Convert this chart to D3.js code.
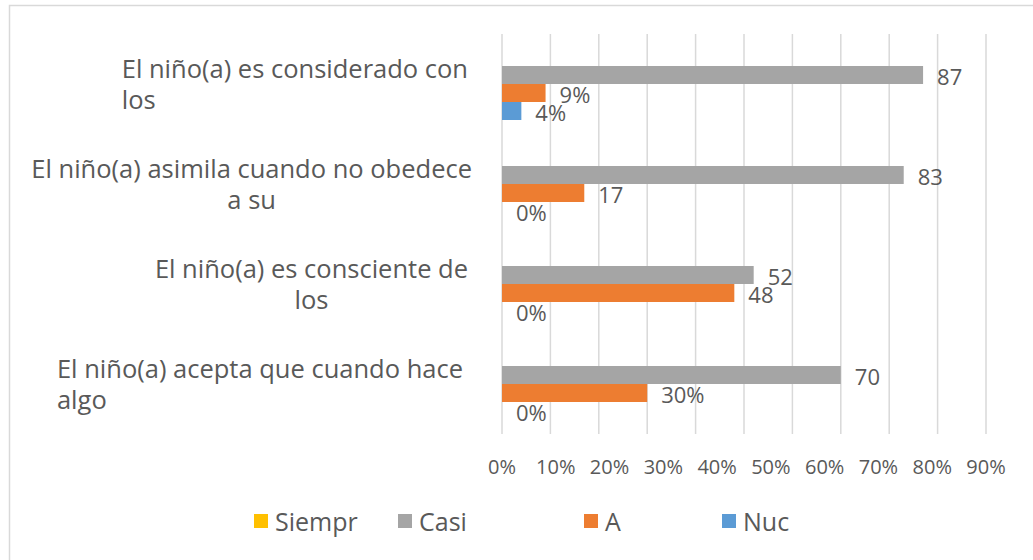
<!DOCTYPE html>
<html>
<head>
<meta charset="utf-8">
<script src="https://cdn.jsdelivr.net/npm/d3@7"></script>
<style>
  html, body { margin: 0; padding: 0; background: #fff; }
  svg { display: block; }
  text { font-family: "Open Sans", sans-serif; fill: #595959; }
</style>
</head>
<body>
<svg id="chart" width="1033" height="560"></svg>
<script>
// ---- data ----
const categories = [
  "El niño(a) es considerado con los",
  "El niño(a) asimila cuando no obedece a su",
  "El niño(a) es consciente de los",
  "El niño(a) acepta que cuando hace algo"
];
const categoryLines = [
  ["El niño(a) es considerado con", "los"],
  ["El niño(a) asimila cuando no obedece", "a su"],
  ["El niño(a) es consciente de", "los"],
  ["El niño(a) acepta que cuando hace", "algo"]
];
const seriesNames = ["Siempr", "Casi", "A", "Nuc"];
const siempreValues = [0, 0, 0, 0];
const casiValues = [0.87, 0.83, 0.52, 0.70];
const aValues = [0.09, 0.17, 0.48, 0.30];
const nucValues = [0.04, 0, 0, 0];
const siempreLabels = [null, null, null, null];
const casiLabels = ["87", "83", "52", "70"];
const aLabels = ["9%", "17", "48", "30%"];
const nucLabels = ["4%", "0%", "0%", "0%"];
const tickLabels = ["0%", "10%", "20%", "30%", "40%", "50%", "60%", "70%", "80%", "90%"];

// ---- build table ----
const valuesBySeries = [siempreValues, casiValues, aValues, nucValues];
const labelsBySeries = [siempreLabels, casiLabels, aLabels, nucLabels];
const colors = ["#ffc000", "#a5a5a5", "#ed7d31", "#5b9bd5"];
const rows = [];
categories.forEach((c, ci) => {
  seriesNames.forEach((s, si) => {
    rows.push({cat: c, series: s, value: valuesBySeries[si][ci], label: labelsBySeries[si][ci], color: colors[si]});
  });
});

const svg = d3.select("#chart");

// chart border (only top & left visible)
svg.append("rect").attr("x", 9.5).attr("y", 5.5).attr("width", 1200).attr("height", 700)
  .attr("fill", "none").attr("stroke", "#d9d9d9").attr("stroke-width", 1.5);

const x = d3.scaleLinear().domain([0, 1]).range([502, 986]);
const y = d3.scaleBand().domain(categories).range([34, 434]).padding(0);
const yInner = d3.scaleBand().domain(seriesNames).range([0, y.bandwidth()]).paddingInner(0).paddingOuter(0.778);

// gridlines
svg.append("g").selectAll("line").data(x.ticks(10)).join("line")
  .attr("x1", d => x(d)).attr("x2", d => x(d))
  .attr("y1", 34).attr("y2", 434)
  .attr("stroke", "#d9d9d9").attr("stroke-width", 1.5);

// bars
svg.append("g").selectAll("rect").data(rows.filter(r => r.value > 0)).join("rect")
  .attr("x", x(0))
  .attr("y", d => y(d.cat) + yInner(d.series))
  .attr("width", d => x(d.value) - x(0))
  .attr("height", yInner.bandwidth())
  .attr("fill", d => d.color);

// data labels
svg.append("g").selectAll("text").data(rows.filter(r => r.label !== null)).join("text")
  .attr("x", d => x(d.value) + 14)
  .attr("y", d => y(d.cat) + yInner(d.series) + yInner.bandwidth() / 2 + 10)
  .attr("font-size", 22)
  .text(d => d.label);

// tick labels (spread across the axis)
const tx = d3.scalePoint().domain(tickLabels).range([x(0), x(1)]);
svg.append("g").selectAll("text").data(tickLabels).join("text")
  .attr("x", d => tx(d)).attr("y", 474)
  .attr("text-anchor", "middle").attr("font-size", 20)
  .text(d => d);

// category labels (one text element per category, two tspans)
const rightEdges = [468, 472, 468, 463];
const secondAlign = ["start", "middle", "middle", "start"];
const catG = svg.append("g");
categoryLines.forEach((lines, i) => {
  const cy = y(categories[i]) + y.bandwidth() / 2;
  const t = catG.append("text").attr("font-size", 25.5);
  const s1 = t.append("tspan")
    .attr("x", rightEdges[i]).attr("y", cy - 15.5 + 9).attr("text-anchor", "end").text(lines[0]);
  const w = s1.node().getComputedTextLength();
  const left = rightEdges[i] - w;
  t.append("tspan")
    .attr("x", secondAlign[i] === "start" ? left : left + w / 2)
    .attr("y", cy + 15.5 + 9)
    .attr("text-anchor", secondAlign[i]).text(lines[1]);
});

// legend
const legendX = [254, 398, 584, 722];
const lg = svg.append("g");
seriesNames.forEach((s, i) => {
  lg.append("rect").attr("x", legendX[i]).attr("y", 514).attr("width", 14).attr("height", 14).attr("fill", colors[i]);
  lg.append("text").attr("x", legendX[i] + 21).attr("y", 531).attr("font-size", 25).text(s);
});
</script>
</body>
</html>
